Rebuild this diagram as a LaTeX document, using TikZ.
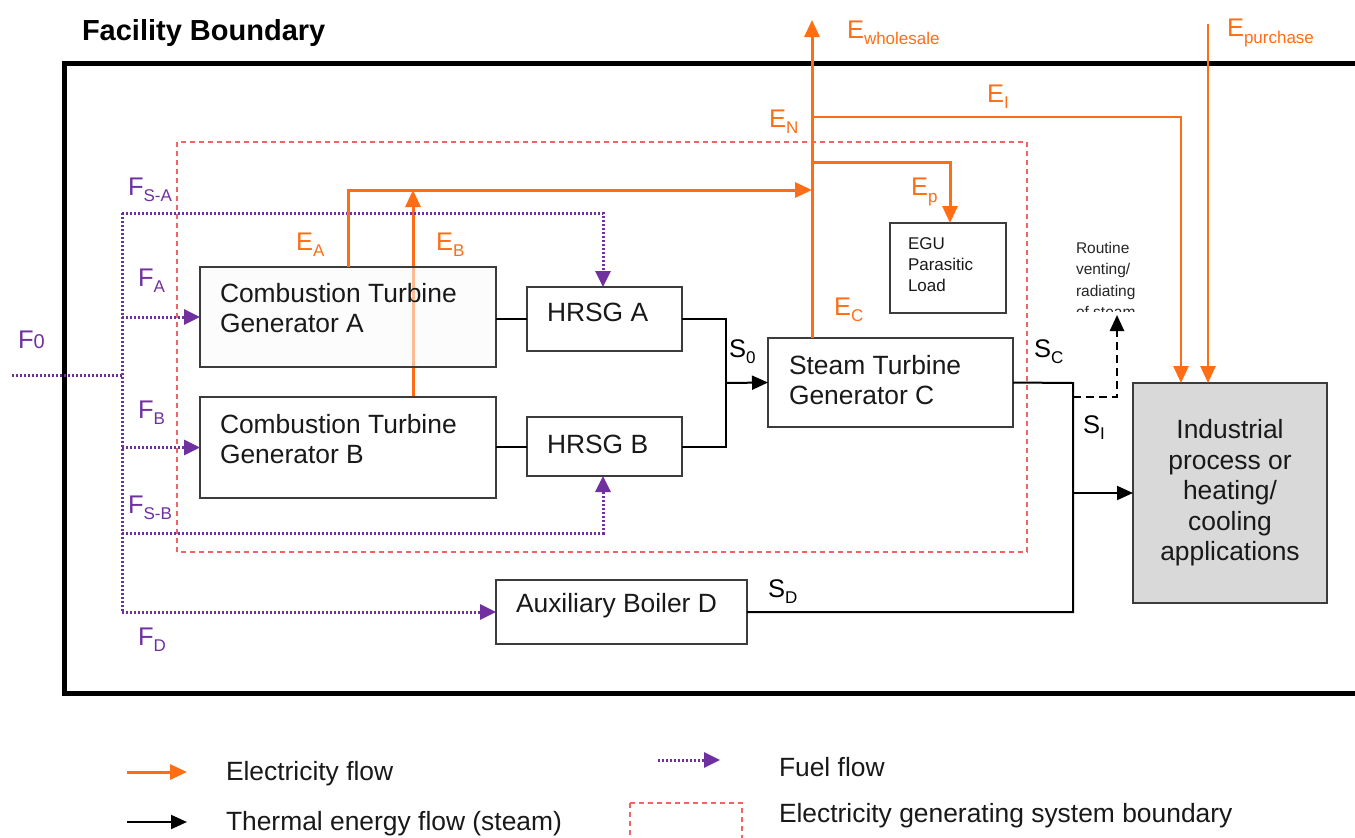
\documentclass[tikz,border=0pt]{standalone}
\usepackage{fontspec}
\setmainfont{Liberation Sans}
\usetikzlibrary{arrows.meta}
\definecolor{eorange}{RGB}{255,110,20}
\definecolor{fpurple}{RGB}{112,48,160}
\definecolor{bred}{RGB}{240,100,100}
\definecolor{boxgray}{RGB}{60,60,60}
\definecolor{indgray}{RGB}{217,217,217}
\newcommand\sbs[1]{\raisebox{-0.45ex}{\fontsize{17}{17}\selectfont #1}}
\pgfdeclarelayer{bg}
\pgfdeclarelayer{bgwhite}
\pgfsetlayers{bgwhite,bg,main}
\begin{document}
\begin{tikzpicture}[x=1pt,y=-1pt,
  every node/.style={inner sep=0pt,outer sep=0pt},
  blk/.style={draw=boxgray,line width=1.8pt,anchor=north west,fill=white},
  txt/.style={font=\fontsize{26.4}{30}\selectfont,align=left,anchor=west,text=black!90},
  lab/.style={font=\fontsize{25.5}{30}\selectfont,anchor=west},
  elab/.style={lab,text=eorange},
  flab/.style={lab,text=fpurple},
  slab/.style={lab,text=black},
  elec/.style={draw=eorange,line width=3pt},
  elecarrow/.style={elec,-{Triangle[length=17pt,width=15pt]}},
  fuel/.style={draw=fpurple,line width=3pt,dash pattern=on 2.2pt off 1.8pt},
  fuelarrow/.style={fuel,-{Triangle[length=16pt,width=15pt]}},
  steam/.style={draw=black,line width=2pt},
  steamarrow/.style={steam,-{Triangle[length=16pt,width=14pt]}},
  sysb/.style={draw=bred,line width=1.5pt,dash pattern=on 5pt off 4pt},
]
\useasboundingbox (0,0) rectangle (1355,838);
\clip (0,0) rectangle (1355,838);
\begin{pgfonlayer}{bgwhite}
\fill[white] (0,0) rectangle (1355,838);
\end{pgfonlayer}

% facility boundary
\node[font=\bfseries\fontsize{29}{32}\selectfont,anchor=west] (title) at (82,33) {Facility Boundary};
\draw[line width=5pt] (1370,63) -- (64,63) -- (64,693) -- (1370,693);

% electricity generating system boundary
\draw[sysb] (177,142) rectangle (1027,552);

% boxes
\node[blk,minimum width=296pt,minimum height=100pt,fill=gray!3,fill opacity=0.55] (ctga) at (200,267) {};
\node[blk,minimum width=296pt,minimum height=101pt] (ctgb) at (200,397) {};
\node[blk,minimum width=155pt,minimum height=64pt] (hrsga) at (527,287) {};
\node[blk,minimum width=155pt,minimum height=59pt] (hrsgb) at (527,417) {};
\node[blk,minimum width=245pt,minimum height=89pt] (stg) at (768,338) {};
\node[blk,minimum width=116pt,minimum height=90pt] (egu) at (890,223) {};
\node[blk,minimum width=251pt,minimum height=64pt] (aux) at (496,580) {};
\node[blk,minimum width=194pt,minimum height=220pt,fill=indgray,
      font=\fontsize{26.4}{30.5}\selectfont,align=center,text=black!90] (ind) at (1133,383)
      {Industrial\\process or\\heating/\\cooling\\applications};

\node[txt] (ctgat) at (220,308) {Combustion Turbine\\Generator A};
\node[txt] (ctgbt) at (220,439) {Combustion Turbine\\Generator B};
\node[txt] (hrsgat) at (547,312) {HRSG A};
\node[txt] (hrsgbt) at (547,444) {HRSG B};
\node[txt] (stgt) at (789,380) {Steam Turbine\\Generator C};
\node[txt,font=\fontsize{17}{21}\selectfont] (egut) at (908,265) {EGU\\Parasitic\\Load};
\node[txt] (auxt) at (516,606) {Auxiliary Boiler D};

% fuel flows
\coordinate (f0s) at (12,375);
\coordinate (fj) at (122,375);
\coordinate (fsa) at (122,213);
\coordinate (fd) at (122,612);
\draw[fuel] (f0s) -- (fj);
\draw[fuel] (fsa) -- (fd);
\draw[fuelarrow] (fsa) -| (hrsga.north -| 603,0);
\draw[fuelarrow] (122,533) -| (hrsgb.south -| 603,0);
\draw[fuelarrow] (ctga.west -| fj) -- (ctga.west);
\draw[fuelarrow] (ctgb.west -| fj) -- (ctgb.west);
\draw[fuelarrow] (fd) -- (aux.west |- fd);

\node[flab] (lf0) at (18,340) {F\raisebox{0pt}{\fontsize{20}{20}\selectfont 0}};
\node[flab] (lfsa) at (128,190) {F\sbs{S-A}};
\node[flab] (lfa) at (138,281) {F\sbs{A}};
\node[flab] (lfb) at (138,413) {F\sbs{B}};
\node[flab] (lfsb) at (128,508) {F\sbs{S-B}};
\node[flab] (lfd) at (138,640) {F\sbs{D}};

% steam flows
\coordinate (m) at (726,383);
\draw[steam] (ctga.east |- hrsga.west) -- (hrsga.west);
\draw[steam] (ctgb.east |- hrsgb.west) -- (hrsgb.west);
\draw[steam] (hrsga.east) -| (m);
\draw[steam] (hrsgb.east) -| (m);
\draw[steamarrow] (m) -- (stg.west);
\coordinate (sj) at (1073,383);
\draw[steam] (stg.east) -- (sj) -- (1073,612) -- (aux.east |- 0,612);
\draw[steamarrow] (1073,493) -- (ind.west |- 0,493);
\coordinate (vent) at (1117,315);
\draw[line width=2.5pt,dash pattern=on 8pt off 5pt,-{Triangle[length=16pt,width=14pt]}] (1073,397) -| (vent);
\begin{scope}
\clip (1060,230) rectangle (1160,311);
\node[anchor=north west,font=\fontsize{15.5}{21.5}\selectfont,align=left,text=black!85] (ventt) at (1076,242) {Routine\\venting/\\radiating\\of steam};
\end{scope}
\node[slab] (ls0) at (729,352) {S\sbs{0}};
\node[slab] (lsc) at (1034,352) {S\sbs{C}};
\node[slab] (lsi) at (1083,428) {S\sbs{I}};
\node[slab] (lsd) at (768,592) {S\sbs{D}};

% electricity flows
\coordinate (en) at (812,190);
\begin{pgfonlayer}{bg}
\draw[elecarrow] (ctgb.north -| 413,0) -- (413,190);
\end{pgfonlayer}
\draw[elecarrow] (ctga.north -| 348,0) -- (348,190) -- (en);
\draw[elecarrow] (stg.north -| en) -- (812,20);
\draw[elecarrow] (812,162) -| (egu.north -| 950,0);
\draw[elecarrow,line width=2.6pt] (812,117) -| (ind.north -| 1181,0);
\draw[elecarrow,line width=2.6pt] (1208,24) -- (ind.north -| 1208,0);

\node[elab] (lea) at (296,245) {E\sbs{A}};
\node[elab] (leb) at (436,245) {E\sbs{B}};
\node[elab] (lec) at (834,310) {E\sbs{C}};
\node[elab] (len) at (769,122) {E\sbs{N}};
\node[elab] (lep) at (911,192) {E\sbs{p}};
\node[elab] (lei) at (987,97) {E\sbs{I}};
\node[elab] (lew) at (847,33) {E\sbs{wholesale}};
\node[elab] (lep2) at (1227,33) {E\sbs{purchase}};

% legend
\draw[elecarrow] (127,772) -- (187,772);
\node[txt] (le1) at (226,774) {Electricity flow};
\draw[steamarrow] (127,822) -- (187,822);
\node[txt] (le2) at (226,824) {Thermal energy flow (steam)};
\draw[fuelarrow] (658,760) -- (720,760);
\node[txt] (le3) at (779,767) {Fuel flow};
\draw[sysb] (630,803) rectangle (742,860);
\node[txt] (le4) at (779,816) {Electricity generating system boundary};
\end{tikzpicture}
\end{document}
